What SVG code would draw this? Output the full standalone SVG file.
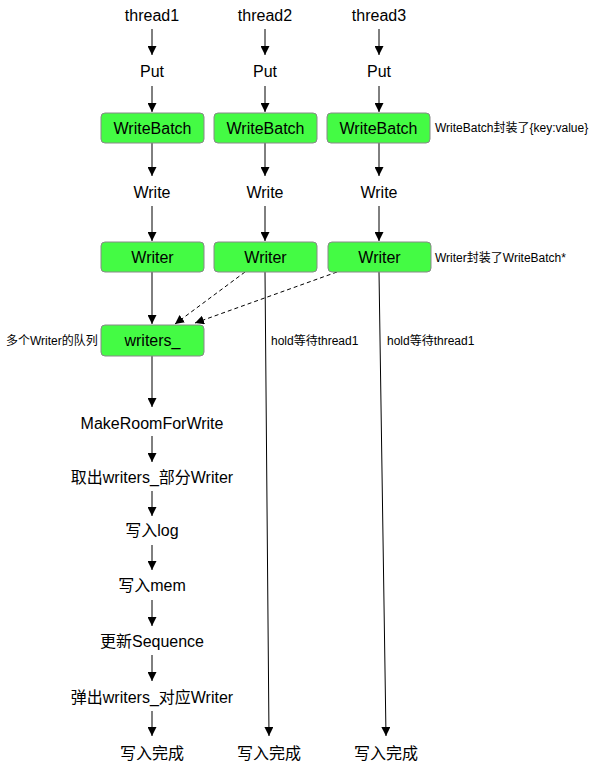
<svg xmlns="http://www.w3.org/2000/svg" width="595" height="770" viewBox="0 0 595 770">
<defs>
<marker id="ah" viewBox="0 0 10 10" refX="10" refY="5" markerWidth="9" markerHeight="9" markerUnits="userSpaceOnUse" orient="auto">
<path d="M0,0 L10,5 L0,10 z" fill="#000"/>
</marker>
</defs>
<style>
.t{font-family:"Liberation Sans","Noto Sans CJK SC",sans-serif;font-size:16px;fill:#000;text-anchor:middle}
.s{font-family:"Liberation Sans","Noto Sans CJK SC",sans-serif;font-size:12px;fill:#000}
.b{fill:#44fb44;stroke:#888;stroke-width:1}
.bt{font-family:"Liberation Sans","Noto Sans CJK SC",sans-serif;font-size:16px;fill:#000;text-anchor:middle}
.c{stroke:#000;stroke-width:1;fill:none;marker-end:url(#ah)}
.d{stroke:#000;stroke-width:1;fill:none;stroke-dasharray:4,3;marker-end:url(#ah)}
</style>
<rect width="595" height="770" fill="#fff"/>
<g id="connectors">
<line class="c" x1="152" y1="29" x2="152" y2="55"/>
<line class="c" x1="265" y1="29" x2="265" y2="55"/>
<line class="c" x1="379" y1="29" x2="379" y2="55"/>
<line class="c" x1="152" y1="86" x2="152" y2="112"/>
<line class="c" x1="265" y1="86" x2="265" y2="112"/>
<line class="c" x1="379" y1="86" x2="379" y2="112"/>
<line class="c" x1="152" y1="143" x2="152" y2="176"/>
<line class="c" x1="265" y1="143" x2="265" y2="176"/>
<line class="c" x1="379" y1="143" x2="379" y2="176"/>
<line class="c" x1="152" y1="206" x2="152" y2="241"/>
<line class="c" x1="265" y1="206" x2="265" y2="241"/>
<line class="c" x1="379" y1="206" x2="379" y2="241"/>
<line class="c" x1="152" y1="272" x2="152" y2="324"/>
<line class="d" x1="245" y1="272" x2="175" y2="324"/>
<line class="d" x1="337" y1="272" x2="195" y2="323"/>
<line class="c" x1="265" y1="272" x2="269" y2="736"/>
<line class="c" x1="379" y1="272" x2="386" y2="736"/>
<line class="c" x1="152" y1="356" x2="152" y2="407"/>
<line class="c" x1="152" y1="436" x2="152" y2="462"/>
<line class="c" x1="152" y1="491" x2="152" y2="516"/>
<line class="c" x1="152" y1="545" x2="152" y2="570"/>
<line class="c" x1="152" y1="600" x2="152" y2="626"/>
<line class="c" x1="152" y1="655" x2="152" y2="681"/>
<line class="c" x1="152" y1="711" x2="152" y2="736"/>
</g>
<g id="thread1"><text class="t" x="152" y="21">thread1</text></g>
<g id="thread2"><text class="t" x="265" y="21">thread2</text></g>
<g id="thread3"><text class="t" x="379" y="21">thread3</text></g>
<g id="put1"><text class="t" x="152" y="77">Put</text></g>
<g id="put2"><text class="t" x="265" y="77">Put</text></g>
<g id="put3"><text class="t" x="379" y="77">Put</text></g>
<g id="wb1"><rect class="b" x="101" y="113" width="103" height="30" rx="4"/><text class="bt" x="152.5" y="134">WriteBatch</text></g>
<g id="wb2"><rect class="b" x="214" y="113" width="103" height="30" rx="4"/><text class="bt" x="265.5" y="134">WriteBatch</text></g>
<g id="wb3"><rect class="b" x="327" y="113" width="103" height="30" rx="4"/><text class="bt" x="378.5" y="134">WriteBatch</text></g>
<g id="wbnote"><text class="s" x="435" y="132">WriteBatch封装了{key:value}</text></g>
<g id="write1"><text class="t" x="152" y="198">Write</text></g>
<g id="write2"><text class="t" x="265" y="198">Write</text></g>
<g id="write3"><text class="t" x="379" y="198">Write</text></g>
<g id="writer1"><rect class="b" x="101" y="242" width="103" height="30" rx="4"/><text class="bt" x="152.5" y="263">Writer</text></g>
<g id="writer2"><rect class="b" x="214" y="242" width="103" height="30" rx="4"/><text class="bt" x="265.5" y="263">Writer</text></g>
<g id="writer3"><rect class="b" x="328" y="242" width="103" height="30" rx="4"/><text class="bt" x="379.5" y="263">Writer</text></g>
<g id="writernote"><text class="s" x="435" y="262">Writer封装了WriteBatch*</text></g>
<g id="writers"><rect class="b" x="101" y="325" width="103" height="31" rx="4"/><text class="bt" x="152.5" y="346">writers_</text></g>
<g id="queuenote"><text class="s" x="6" y="345">多个Writer的队列</text></g>
<g id="hold2"><text class="s" x="271" y="345">hold等待thread1</text></g>
<g id="hold3"><text class="s" x="387" y="345">hold等待thread1</text></g>
<g id="mrfw"><text class="t" x="152" y="429">MakeRoomForWrite</text></g>
<g id="take"><text class="t" x="152" y="483">取出writers_部分Writer</text></g>
<g id="log"><text class="t" x="152" y="536">写入log</text></g>
<g id="mem"><text class="t" x="152" y="591">写入mem</text></g>
<g id="seq"><text class="t" x="152" y="647">更新Sequence</text></g>
<g id="pop"><text class="t" x="152" y="703">弹出writers_对应Writer</text></g>
<g id="done1"><text class="t" x="152" y="759">写入完成</text></g>
<g id="done2"><text class="t" x="269" y="759">写入完成</text></g>
<g id="done3"><text class="t" x="386" y="759">写入完成</text></g>
</svg>
